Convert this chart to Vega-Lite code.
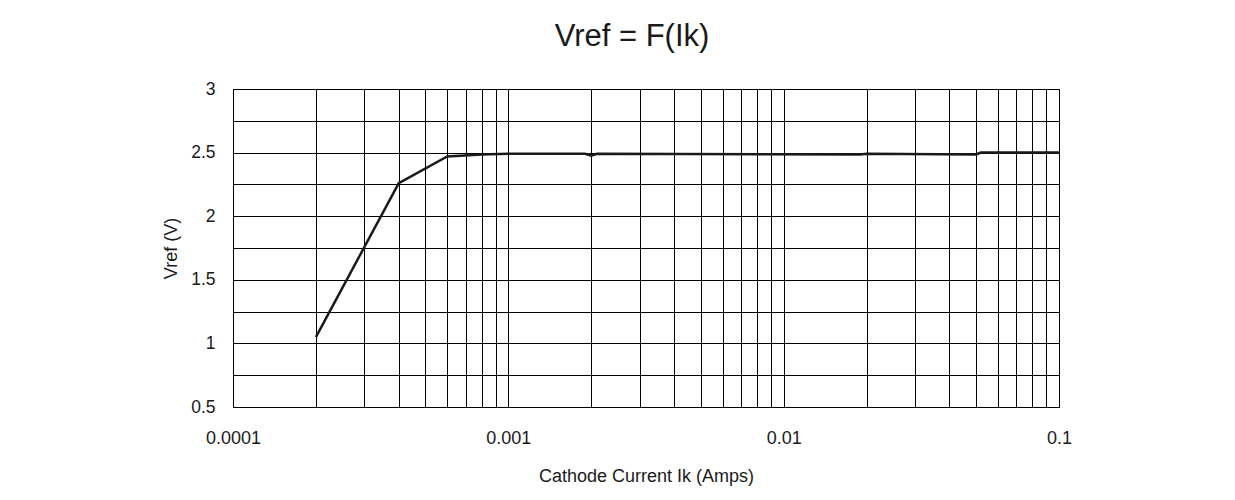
{
  "$schema": "https://vega.github.io/schema/vega-lite/v6.json",
  "autosize": {"type": "none"},
  "padding": {"left": 233, "top": 89, "right": 176, "bottom": 93},
  "width": 826,
  "height": 318,
  "background": "white",
  "title": {
    "text": "Vref = F(Ik)",
    "font": "Liberation Sans",
    "fontSize": 31,
    "fontWeight": "normal",
    "color": "#1a1a1a",
    "anchor": "middle",
    "frame": "group",
    "baseline": "alphabetic",
    "offset": 3,
    "dx": -14
  },
  "config": {
    "view": {"stroke": "black", "strokeWidth": 1},
    "axis": {
      "labelFont": "Liberation Sans",
      "titleFont": "Liberation Sans",
      "labelColor": "#1a1a1a",
      "titleColor": "#1a1a1a",
      "titleFontWeight": "normal",
      "domain": false,
      "ticks": false,
      "gridColor": "black",
      "gridOpacity": 1,
      "gridWidth": 1,
      "labelOverlap": false,
      "labelFlush": false
    }
  },
  "data": {
    "values": [
      {"ik": 0.0002, "vref": 1.05},
      {"ik": 0.0004, "vref": 2.26},
      {"ik": 0.0006, "vref": 2.47},
      {"ik": 0.0008, "vref": 2.485},
      {"ik": 0.001, "vref": 2.49},
      {"ik": 0.0019, "vref": 2.49},
      {"ik": 0.002, "vref": 2.475},
      {"ik": 0.0021, "vref": 2.49},
      {"ik": 0.019, "vref": 2.485},
      {"ik": 0.02, "vref": 2.49},
      {"ik": 0.05, "vref": 2.485},
      {"ik": 0.052, "vref": 2.5},
      {"ik": 0.1, "vref": 2.5}
    ]
  },
  "mark": {"type": "line", "color": "#1a1a1a", "strokeWidth": 2.5, "clip": true},
  "encoding": {
    "x": {
      "field": "ik",
      "type": "quantitative",
      "scale": {"type": "log", "domain": [0.0001, 0.1], "nice": false},
      "axis": {
        "title": "Cathode Current Ik (Amps)",
        "values": [0.0001, 0.0002, 0.0003, 0.0004, 0.0005, 0.0006, 0.0007, 0.0008, 0.0009,
                   0.001, 0.002, 0.003, 0.004, 0.005, 0.006, 0.007, 0.008, 0.009,
                   0.01, 0.02, 0.03, 0.04, 0.05, 0.06, 0.07, 0.08, 0.09, 0.1],
        "labelExpr": "indexof([0.0001, 0.001, 0.01, 0.1], datum.value) >= 0 ? format(datum.value, '~g') : ''",
        "labelFontSize": 18,
        "labelPadding": 22,
        "titleFontSize": 18,
        "titlePadding": 20
      }
    },
    "y": {
      "field": "vref",
      "type": "quantitative",
      "scale": {"domain": [0.5, 3], "nice": false, "zero": false},
      "axis": {
        "title": "Vref (V)",
        "values": [0.5, 0.75, 1, 1.25, 1.5, 1.75, 2, 2.25, 2.5, 2.75, 3],
        "labelExpr": "(datum.value * 2) % 1 == 0 ? format(datum.value, '~g') : ''",
        "labelFontSize": 17.5,
        "labelPadding": 18,
        "titleFontSize": 18,
        "titlePadding": 10
      }
    }
  }
}
